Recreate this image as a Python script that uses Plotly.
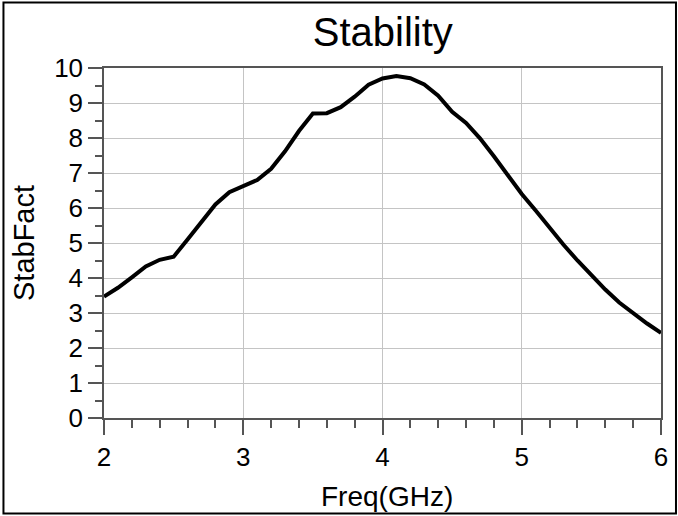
import plotly.graph_objects as go

freq_ghz = [2.0, 2.1, 2.2, 2.3, 2.4, 2.5, 2.6, 2.7, 2.8, 2.9,
            3.0, 3.1, 3.2, 3.3, 3.4, 3.5, 3.6, 3.7, 3.8, 3.9,
            4.0, 4.1, 4.2, 4.3, 4.4, 4.5, 4.6, 4.7, 4.8, 4.9,
            5.0, 5.1, 5.2, 5.3, 5.4, 5.5, 5.6, 5.7, 5.8, 5.9, 6.0]
stab_fact = [3.47, 3.72, 4.02, 4.33, 4.52, 4.61, 5.10, 5.62, 6.10, 6.45,
             6.63, 6.80, 7.12, 7.62, 8.20, 8.70, 8.71, 8.88, 9.18, 9.52,
             9.70, 9.77, 9.71, 9.53, 9.21, 8.75, 8.43, 7.99, 7.48, 6.95,
             6.40, 5.93, 5.43, 4.95, 4.50, 4.07, 3.67, 3.30, 2.99, 2.70, 2.43]
x_ticks = [2, 3, 4, 5, 6]
y_ticks = list(range(0, 11))

FONT = "Liberation Sans, Arial, sans-serif"
AXIS_COLOR = "#555555"
GRID_COLOR = "#c4c4c4"

fig = go.Figure()
fig.add_trace(go.Scatter(x=freq_ghz, y=stab_fact, mode="lines",
                         line=dict(color="black", width=4), showlegend=False))

fig.update_layout(
    width=678, height=516,
    margin=dict(l=104, r=17, t=68, b=98, autoexpand=False),
    paper_bgcolor="white", plot_bgcolor="white",
    font=dict(family=FONT, color="black"),
    title=dict(text="Stability", x=0.5646, xanchor="center", y=0.938, yanchor="middle",
               font=dict(size=40, family=FONT, color="black")),
)
fig.update_xaxes(
    range=[2, 6], tickvals=x_ticks, ticktext=[str(v) for v in x_ticks],
    showgrid=True, gridcolor=GRID_COLOR, gridwidth=1,
    showline=True, linecolor=AXIS_COLOR, linewidth=1.5, mirror=True,
    ticks="outside", ticklen=15, tickwidth=1.5, tickcolor=AXIS_COLOR,
    tickfont=dict(size=26, family=FONT, color="black"),
    minor=dict(dtick=0.2, tick0=2, ticks="outside", ticklen=8, tickwidth=1.5,
               tickcolor=AXIS_COLOR, showgrid=False),
    zeroline=False,
)
fig.update_yaxes(
    range=[0, 10], tickvals=y_ticks, ticktext=[str(v) for v in y_ticks],
    showgrid=True, gridcolor=GRID_COLOR, gridwidth=1,
    showline=True, linecolor=AXIS_COLOR, linewidth=1.5, mirror=True,
    ticks="outside", ticklen=14, tickwidth=1.5, tickcolor=AXIS_COLOR,
    tickfont=dict(size=26, family=FONT, color="black"),
    minor=dict(dtick=0.5, tick0=0, ticks="outside", ticklen=7, tickwidth=1.5,
               tickcolor=AXIS_COLOR, showgrid=False),
    zeroline=False,
)
fig.add_annotation(text="Freq(GHz)", xref="paper", yref="paper", x=0.5085, y=-0.2257,
                   xanchor="center", yanchor="middle", showarrow=False,
                   font=dict(size=28, family=FONT, color="black"))
fig.add_annotation(text="StabFact", xref="paper", yref="paper", x=-0.1436, y=0.5,
                   xanchor="center", yanchor="middle", showarrow=False, textangle=-90,
                   font=dict(size=29, family=FONT, color="black"))
# outer frame around the whole chart
fig.add_shape(type="rect", xref="paper", yref="paper",
              x0=-0.1805, x1=1.0269, y0=-0.2729, y1=1.1871,
              line=dict(color="black", width=2), fillcolor="rgba(0,0,0,0)", layer="above")

fig.write_html("out.html", config={"displayModeBar": False},
               post_script="document.body.style.margin='0';document.body.style.overflow='hidden';")
